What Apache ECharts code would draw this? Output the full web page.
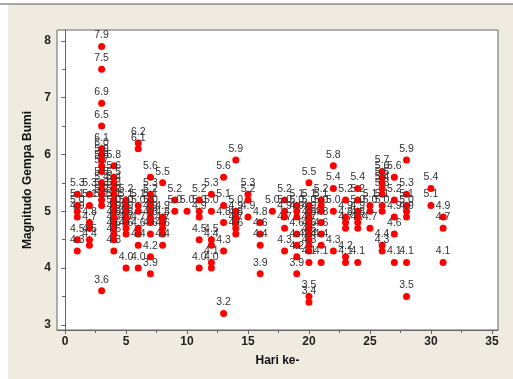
<!DOCTYPE html>
<html>
<head>
<meta charset="utf-8">
<script src="https://cdn.jsdelivr.net/npm/echarts@6/dist/echarts.min.js"></script>
<style>
html, body { margin: 0; padding: 0; background: #fff; }
#main { width: 513px; height: 379px; }
</style>
</head>
<body>
<div id="main"></div>
<script>
// magnitudes per day (Hari ke-)
var hari = [1, 2, 3, 4, 5, 6, 7, 8, 9, 10, 11, 12, 13, 14, 15, 16, 17, 18, 19, 20, 21, 22, 23, 24, 25, 26, 27, 28, 30, 31];
var magnitudo = [
    [5.3, 5.1, 5.0, 4.9, 4.5, 4.3],
    [5.3, 5.1, 4.8, 4.7, 4.5, 4.4],
    [7.9, 7.5, 6.9, 6.5, 6.1, 6.0, 5.9, 5.8, 5.7, 5.5, 5.4, 5.3, 5.2, 5.1, 3.6],
    [5.8, 5.6, 5.5, 5.4, 5.3, 5.2, 5.1, 5.0, 4.9, 4.8, 4.7, 4.6, 4.5, 4.3],
    [5.2, 5.1, 5.0, 4.9, 4.8, 4.7, 4.6, 4.0],
    [6.2, 6.1, 5.1, 5.0, 4.7, 4.6, 4.4, 4.0],
    [5.6, 5.3, 5.2, 5.1, 5.0, 4.9, 4.8, 4.6, 4.2, 3.9],
    [5.5, 4.9, 4.8, 4.7, 4.6, 4.4],
    [5.2, 5.0],
    [5.0],
    [5.2, 5.0, 4.9, 4.5, 4.0],
    [5.3, 5.0, 4.5, 4.4, 4.1, 4.0],
    [5.6, 5.1, 4.8, 4.3, 3.2],
    [5.9, 5.0, 4.9, 4.8, 4.7, 4.6],
    [5.3, 5.2, 4.9],
    [4.8, 4.6, 4.4, 3.9],
    [5.0],
    [5.2, 5.0, 4.9, 4.7, 4.3],
    [5.1, 5.0, 4.9, 4.6, 4.4, 4.2, 3.9],
    [5.5, 5.1, 5.0, 4.9, 4.8, 4.7, 4.6, 4.5, 4.4, 4.3, 4.1, 3.5, 3.4],
    [5.2, 5.1, 5.0, 4.8, 4.6, 4.4, 4.1],
    [5.8, 5.4, 5.0, 4.3],
    [5.2, 4.9, 4.8, 4.7, 4.2, 4.1],
    [5.4, 5.2, 5.0, 4.9, 4.8, 4.7, 4.1],
    [5.1, 5.0, 4.7],
    [5.7, 5.6, 5.5, 5.4, 5.3, 5.1, 5.0, 4.4, 4.3],
    [5.6, 5.2, 4.9, 4.6, 4.1],
    [5.9, 5.3, 5.1, 5.0, 4.9, 4.1, 3.5],
    [5.4, 5.1],
    [4.9, 4.7, 4.1]
];
var xTicks = [0, 5, 10, 15, 20, 25, 30, 35];
var xMinor = [2.5, 7.5, 12.5, 17.5, 22.5, 27.5, 32.5];
var yTicks = [3, 4, 5, 6, 7, 8];
var yMinor = [3.5, 4.5, 5.5, 6.5, 7.5];

var points = [];
hari.forEach(function (d, i) {
    magnitudo[i].forEach(function (m) { points.push([d, m]); });
});

var chart = echarts.init(document.getElementById('main'));
var tickFont = { fontFamily: 'Liberation Sans', fontWeight: 'bold', fontSize: 12, color: '#222' };
var option = {
    backgroundColor: '#fff',
    animation: false,
    graphic: [
        { type: 'rect', left: 8, top: 4, shape: { width: 505, height: 375 }, style: { fill: '#efebe1' }, z: -10 },
        { type: 'line', shape: { x1: 0, y1: 4, x2: 513, y2: 4 }, style: { stroke: '#555', lineWidth: 1 }, z: -9 }
    ],
    grid: {
        left: 57, top: 30, right: 15, bottom: 49,
        show: true, backgroundColor: '#fff', borderColor: '#666', borderWidth: 1
    },
    xAxis: [{
        type: 'value', min: -0.66, max: 35.5,
        name: 'Hari ke-', nameLocation: 'middle', nameGap: 25,
        nameTextStyle: { fontFamily: 'Liberation Sans', fontWeight: 'bold', fontSize: 12, color: '#111' },
        axisLine: { show: true, lineStyle: { color: '#666' } },
        axisTick: { show: true, length: 4, customValues: xTicks, lineStyle: { color: '#666' } },
        axisLabel: Object.assign({ customValues: xTicks, margin: 6 }, tickFont),
        splitLine: { show: false }
    }, {
        type: 'value', min: -0.66, max: 35.5, position: 'bottom',
        axisLine: { show: false },
        axisTick: { show: true, length: 3, customValues: xMinor, lineStyle: { color: '#666' } },
        axisLabel: { show: false },
        splitLine: { show: false }
    }],
    yAxis: [{
        type: 'value', min: 2.91, max: 8.19,
        name: 'Magnitudo Gempa Bumi', nameLocation: 'middle', nameGap: 14, nameRotate: 90,
        nameTextStyle: { fontFamily: 'Liberation Sans', fontWeight: 'bold', fontSize: 12, color: '#111' },
        axisLine: { show: true, lineStyle: { color: '#666' } },
        axisTick: { show: true, length: 4, customValues: yTicks, lineStyle: { color: '#666' } },
        axisLabel: Object.assign({ customValues: yTicks, margin: 6 }, tickFont),
        splitLine: { show: false }
    }, {
        type: 'value', min: 2.91, max: 8.19, position: 'left',
        axisLine: { show: false },
        axisTick: { show: true, length: 3, customValues: yMinor, lineStyle: { color: '#666' } },
        axisLabel: { show: false },
        splitLine: { show: false }
    }],
    series: [{
        type: 'scatter',
        xAxisIndex: 0, yAxisIndex: 0,
        symbolSize: 7,
        itemStyle: { color: '#ff0000', opacity: 1 },
        label: {
            show: true, position: 'top', distance: 2,
            fontFamily: 'Liberation Sans', fontSize: 10.5, color: '#333',
            formatter: function (p) { return p.value[1].toFixed(1); }
        },
        data: points
    }]
};
chart.setOption(option);
</script>
</body>
</html>
